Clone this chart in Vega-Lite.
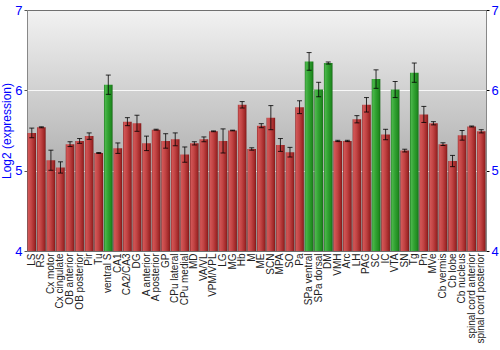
{
  "$schema": "https://vega.github.io/schema/vega-lite/v6.json",
  "width": 459,
  "height": 241,
  "padding": {"left": 0, "top": 4, "right": 0, "bottom": 0},
  "config": {
    "view": {
      "fill": {"gradient": "linear", "x1": 0, "y1": 0, "x2": 0, "y2": 1,
        "stops": [{"offset": 0, "color": "#f2f2f2"}, {"offset": 1, "color": "#8e8e8e"}]},
      "stroke": "#707070",
      "strokeWidth": 1
    },
    "font": "Liberation Sans"
  },
  "data": {
    "values": [
      {"region": "LS", "value": 5.47, "err": 0.06, "g": "r"},
      {"region": "RS", "value": 5.54, "err": 0.006, "g": "r"},
      {"region": "Cx motor", "value": 5.13, "err": 0.125, "g": "r"},
      {"region": "Cx cingulate", "value": 5.04, "err": 0.07, "g": "r"},
      {"region": "OB anterior", "value": 5.33, "err": 0.03, "g": "r"},
      {"region": "OB posterior", "value": 5.37, "err": 0.03, "g": "r"},
      {"region": "Pir", "value": 5.43, "err": 0.04, "g": "r"},
      {"region": "Tu", "value": 5.22, "err": 0.006, "g": "r"},
      {"region": "ventral S", "value": 6.07, "err": 0.12, "g": "g"},
      {"region": "CA1", "value": 5.28, "err": 0.065, "g": "r"},
      {"region": "CA2/CA3", "value": 5.61, "err": 0.05, "g": "r"},
      {"region": "DG", "value": 5.59, "err": 0.1, "g": "r"},
      {"region": "A anterior", "value": 5.34, "err": 0.09, "g": "r"},
      {"region": "A posterior", "value": 5.51, "err": 0.006, "g": "r"},
      {"region": "GP", "value": 5.37, "err": 0.09, "g": "r"},
      {"region": "CPu lateral", "value": 5.39, "err": 0.08, "g": "r"},
      {"region": "CPu medial", "value": 5.2, "err": 0.095, "g": "r"},
      {"region": "MD", "value": 5.34, "err": 0.02, "g": "r"},
      {"region": "VA/VL", "value": 5.39, "err": 0.03, "g": "r"},
      {"region": "VPM/VPL", "value": 5.49, "err": 0.005, "g": "r"},
      {"region": "LG", "value": 5.37, "err": 0.15, "g": "r"},
      {"region": "MG", "value": 5.5, "err": 0.004, "g": "r"},
      {"region": "Hb", "value": 5.82, "err": 0.04, "g": "r"},
      {"region": "M", "value": 5.27, "err": 0.015, "g": "r"},
      {"region": "ME", "value": 5.56, "err": 0.025, "g": "r"},
      {"region": "SCN", "value": 5.66, "err": 0.15, "g": "r"},
      {"region": "MPA", "value": 5.32, "err": 0.08, "g": "r"},
      {"region": "SO", "value": 5.23, "err": 0.06, "g": "r"},
      {"region": "Pa", "value": 5.79, "err": 0.08, "g": "r"},
      {"region": "SPa ventral", "value": 6.36, "err": 0.11, "g": "g"},
      {"region": "SPa dorsal", "value": 6.01, "err": 0.09, "g": "g"},
      {"region": "DM", "value": 6.34, "err": 0.013, "g": "g"},
      {"region": "VMH", "value": 5.37, "err": 0.008, "g": "r"},
      {"region": "Arc", "value": 5.37, "err": 0.008, "g": "r"},
      {"region": "LH", "value": 5.64, "err": 0.045, "g": "r"},
      {"region": "PAG", "value": 5.82, "err": 0.09, "g": "r"},
      {"region": "SC", "value": 6.14, "err": 0.115, "g": "g"},
      {"region": "IC", "value": 5.45, "err": 0.065, "g": "r"},
      {"region": "VTA", "value": 6.01, "err": 0.1, "g": "g"},
      {"region": "SN", "value": 5.25, "err": 0.017, "g": "r"},
      {"region": "Tg", "value": 6.22, "err": 0.12, "g": "g"},
      {"region": "Pn", "value": 5.7, "err": 0.1, "g": "r"},
      {"region": "MVe", "value": 5.59, "err": 0.02, "g": "r"},
      {"region": "Cb vermis", "value": 5.33, "err": 0.017, "g": "r"},
      {"region": "Cb lobe", "value": 5.12, "err": 0.07, "g": "r"},
      {"region": "Cb nucleus", "value": 5.44, "err": 0.06, "g": "r"},
      {"region": "spinal cord anterior", "value": 5.55, "err": 0.006, "g": "r"},
      {"region": "spinal cord posterior", "value": 5.49, "err": 0.02, "g": "r"}
    ]
  },
  "encoding": {
    "x": {
      "field": "region", "type": "nominal", "sort": null,
      "scale": {"paddingInner": 0.1, "paddingOuter": 0.05},
      "axis": {"title": null, "labelAngle": -90, "labelFontSize": 10, "labelColor": "#222",
        "labelPadding": 2, "ticks": false, "domain": false, "labelOverlap": false}
    }
  },
  "layer": [
    {
      "mark": {"type": "bar", "clip": true},
      "encoding": {
        "y": {
          "field": "value", "type": "quantitative",
          "scale": {"domain": [4, 7], "nice": false, "zero": false},
          "axis": {
            "title": "Log2 (expression)", "orient": "left", "values": [4, 5, 6, 7],
            "labelColor": "#0000ff", "labelFontSize": 13, "titleColor": "#0000ff",
            "titleFontSize": 12, "titleFontWeight": "normal", "titlePadding": 1,
            "tickColor": "#555", "tickSize": 3, "labelPadding": 2, "domainColor": "#888",
            "grid": true,
            "gridColor": {"condition": {"test": "datum.value == 7 || datum.value == 4", "value": "transparent"}, "value": "#ffffff"},
            "gridOpacity": 0.85
          }
        },
        "y2": {"datum": 4},
        "fill": {
          "condition": {
            "test": "datum.g == 'g'",
            "value": {"gradient": "linear", "x1": 0, "y1": 0, "x2": 1, "y2": 0,
              "stops": [{"offset": 0, "color": "#1c6e1c"}, {"offset": 0.12, "color": "#4cb84c"},
                {"offset": 0.45, "color": "#33a333"}, {"offset": 0.85, "color": "#1f8a1f"}, {"offset": 1, "color": "#146414"}]}
          },
          "value": {"gradient": "linear", "x1": 0, "y1": 0, "x2": 1, "y2": 0,
            "stops": [{"offset": 0, "color": "#8c2424"}, {"offset": 0.12, "color": "#d25656"},
              {"offset": 0.45, "color": "#c24444"}, {"offset": 0.85, "color": "#9e2626"}, {"offset": 1, "color": "#7a1818"}]}
        }
      }
    },
    {
      "mark": {"type": "errorbar", "ticks": {"size": 5, "color": "#000", "opacity": 0.8}, "color": "#000", "opacity": 0.8},
      "encoding": {
        "y": {
          "field": "value", "type": "quantitative",
          "scale": {"domain": [4, 7], "nice": false, "zero": false},
          "axis": {
            "title": null, "orient": "right", "values": [4, 5, 6, 7],
            "labelColor": "#0000ff", "labelFontSize": 13, "tickColor": "#000",
            "tickSize": 3, "labelPadding": 2, "domainColor": "#888", "grid": false
          }
        },
        "yError": {"field": "err"}
      }
    }
  ],
  "resolve": {"axis": {"y": "independent"}}
}
